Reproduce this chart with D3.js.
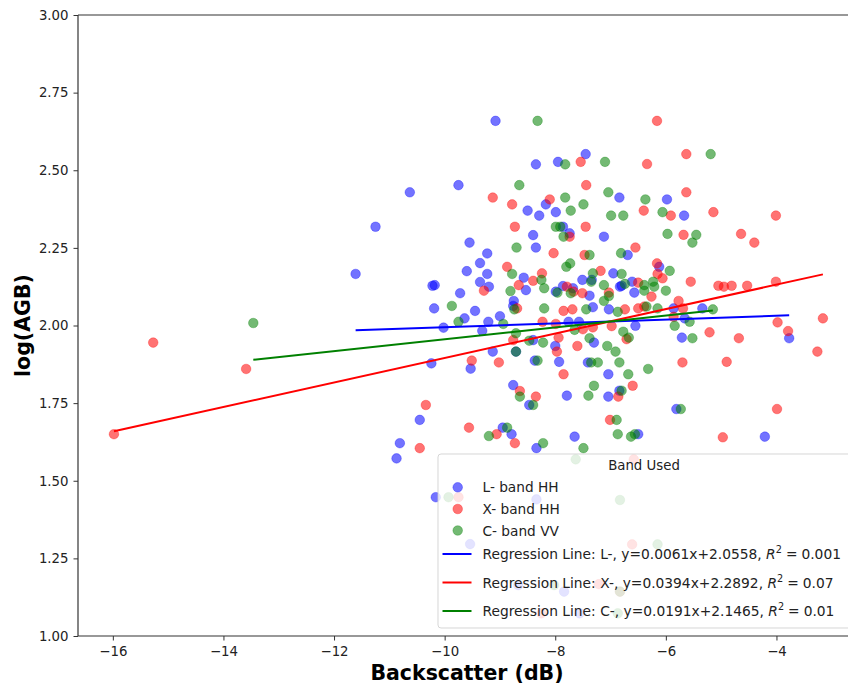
<!DOCTYPE html>
<html>
<head>
<meta charset="utf-8">
<script src="https://cdn.jsdelivr.net/npm/d3@7"></script>
<style>
  html, body { margin: 0; padding: 0; background: #fff; }
  svg { display: block; font-family: "DejaVu Sans", sans-serif; }
</style>
</head>
<body>
<svg id="chart" width="848" height="688"></svg>
<script>
// Backscatter (dB) vs log(AGB) for the three radar bands
const bandNames = ["L- band HH", "X- band HH", "C- band VV"];
const bandCodes = ["L", "X", "C"];
const bandColors = ["blue", "red", "green"];

const lBackscatter = [-9.08,-8.35,-7.95,-7.45,-9.75,-10.63,-11.25,-11.61,-8.50,-8.29,-8.17,-7.99,-8.40,-8.35,-7.86,-7.74,
  -9.55,-9.23,-9.36,-9.60,-9.23,-9.36,-9.20,-10.22,-10.18,-9.72,-10.19,-9.45,-9.64,-10.02,-9.32,-9.21,-9.00,-8.75,-8.76,
  -8.57,-8.53,-7.99,-7.68,-7.51,-7.38,-7.32,-7.34,-7.76,-7.57,-6.84,-5.98,-5.67,-7.12,-6.69,-6.12,-6.95,-6.61,-6.80,
  -6.57,-7.03,-5.34,-5.86,-5.66,-6.55,-5.71,-3.77,-6.83,-7.86,-10.24,-9.53,-9.13,-8.71,-8.37,-8.40,-8.00,-7.93,-7.30,
  -7.41,-8.76,-8.47,-7.79,-10.45,-8.95,-8.79,-8.34,-7.65,-10.81,-10.87,-7.04,-7.04,-6.84,-6.50,-5.81,-4.21,-10.16,
  -8.34,-9.54,-8.67,-7.84,-7.56];
const lLogAGB = [2.659,2.519,2.527,2.552,2.452,2.429,2.318,2.166,2.370,2.354,2.390,2.365,2.291,2.251,2.318,2.297,
  2.267,2.232,2.201,2.175,2.166,2.140,2.125,2.128,2.130,2.104,2.055,2.047,2.023,1.993,1.983,2.012,2.030,2.079,2.063,
  2.154,2.114,2.109,2.120,2.147,2.096,2.059,2.147,2.012,2.012,2.412,2.406,2.354,2.286,2.227,2.189,2.168,2.141,2.128,
  2.106,2.052,2.055,2.055,2.023,1.999,1.961,1.959,2.125,2.127,1.878,1.861,1.916,1.916,1.887,1.953,1.934,1.883,1.945,
  1.881,1.808,1.744,1.774,1.696,1.671,1.650,1.605,1.642,1.621,1.572,1.843,1.771,1.790,1.650,1.731,1.642,1.447,
  1.440,1.296,1.164,1.143,1.073];

const xBackscatter = [-15.27,-13.59,-15.98,-7.54,-7.44,-9.13,-8.78,-8.10,-8.73,-7.45,-8.03,-7.47,-8.87,-8.24,-8.40,-8.66,
  -9.29,-7.79,-7.67,-7.51,-8.69,-7.85,-7.69,-8.23,-7.99,-7.94,-7.18,-7.32,-7.74,-6.16,-5.63,-6.34,-5.63,-6.40,-5.91,
  -5.14,-4.01,-5.68,-4.64,-4.40,-6.55,-6.16,-6.15,-6.06,-5.55,-5.05,-4.95,-4.81,-4.53,-4.01,-6.50,-7.03,-6.26,-5.77,
  -6.74,-6.50,-6.39,-5.69,-5.86,-3.16,-3.98,-3.79,-5.21,-4.68,-6.98,-7.50,-9.51,-9.02,-8.76,-7.97,-7.85,-7.60,-8.64,
  -8.35,-10.34,-9.56,-9.06,-8.73,-10.45,-6.71,-6.60,-6.86,-7.01,-3.26,-5.70,-4.90,-3.99,-4.97,-9.75,-6.58,-6.61,-7.21,
  -8.25,-6.83];
const xLogAGB = [1.945,1.860,1.650,2.527,2.452,2.412,2.390,2.406,2.318,2.318,2.233,2.227,2.189,2.168,2.144,2.130,
  2.112,2.125,2.109,2.104,2.055,2.047,2.052,2.012,2.005,1.961,2.176,1.994,2.286,2.659,2.552,2.520,2.429,2.370,2.354,
  2.365,2.354,2.292,2.295,2.267,2.251,2.200,2.166,2.152,2.141,2.128,2.125,2.128,2.128,2.141,2.138,2.106,2.093,2.079,
  2.052,2.055,2.061,2.055,2.028,2.023,2.010,1.982,1.978,1.959,1.998,1.988,1.887,1.881,1.953,1.916,1.843,1.934,1.789,
  1.771,1.744,1.671,1.650,1.621,1.605,1.956,1.806,1.771,1.696,1.916,1.881,1.883,1.731,1.640,1.447,1.569,1.295,1.167,
  1.073,1.143];

const cBackscatter = [-13.46,-8.32,-7.82,-8.65,-7.82,-7.72,-7.49,-7.99,-7.91,-7.85,-8.70,-7.38,-7.80,-7.73,-8.78,-8.25,
  -8.20,-8.81,-7.96,-7.72,-7.32,-9.87,-9.75,-8.74,-8.20,-7.44,-8.94,-8.71,-5.19,-7.10,-7.04,-6.37,-6.06,-6.99,-6.77,
  -5.97,-5.45,-5.52,-6.81,-7.35,-7.12,-6.80,-6.74,-6.39,-6.23,-6.21,-5.93,-6.00,-6.39,-7.03,-7.12,-6.87,-6.35,-6.15,
  -5.15,-5.57,-5.84,-6.77,-6.67,-5.52,-7.65,-7.38,-8.71,-8.32,-8.47,-8.22,-7.35,-7.23,-8.64,-8.40,-7.40,-7.30,-8.87,
  -9.20,-8.22,-7.49,-7.06,-6.91,-6.84,-6.68,-6.32,-6.80,-6.89,-6.87,-6.63,-6.56,-5.73,-7.63,-9.93,-6.83,-8.02,-6.15,
  -6.87,-6.83];
const cLogAGB = [2.008,2.659,2.519,2.452,2.412,2.370,2.390,2.318,2.318,2.286,2.251,2.227,2.189,2.200,2.166,2.147,
  2.120,2.111,2.106,2.104,2.168,2.063,2.012,2.052,2.055,2.052,2.005,1.975,2.552,2.527,2.429,2.406,2.365,2.354,2.354,
  2.295,2.292,2.267,2.233,2.141,2.130,2.166,2.134,2.130,2.141,2.125,2.176,2.112,2.112,2.095,2.079,2.044,2.061,2.055,
  2.052,2.012,1.999,1.980,1.961,1.959,1.986,1.959,1.916,1.887,1.951,1.945,1.881,1.881,1.771,1.744,1.774,1.806,1.671,
  1.644,1.621,1.605,1.934,1.916,1.881,1.843,1.860,1.790,1.696,1.650,1.642,1.650,1.731,1.569,1.447,1.438,1.164,1.295,
  1.073,1.143];

// Fitted regression lines (slope, intercept, R²) as printed in the legend
const slopes = [0.0061, 0.0394, 0.0191];
const intercepts = [2.0558, 2.2892, 2.1465];
const slopeText = ["0.0061", "0.0394", "0.0191"];
const interceptText = ["2.0558", "2.2892", "2.1465"];
const r2Text = ["0.001", "0.07", "0.01"];

const xTicks = [-16, -14, -12, -10, -8, -6, -4];
const yTicks = [1.00, 1.25, 1.50, 1.75, 2.00, 2.25, 2.50, 2.75, 3.00];

const backscatter = [lBackscatter, xBackscatter, cBackscatter];
const logAGB = [lLogAGB, xLogAGB, cLogAGB];

const svg = d3.select("#chart");
const plotLeft = 78, plotTop = 15, plotBottom = 636;

const x = d3.scaleLinear().domain([-16.63, -2.52]).range([plotLeft, 858.3]);
const y = d3.scaleLinear().domain([1, 3]).range([plotBottom, plotTop]);

// axes
const axisColor = "#333";
const gx = svg.append("g").attr("transform", `translate(0,${plotBottom})`)
  .call(d3.axisBottom(x).tickValues(xTicks).tickSize(4.5).tickPadding(6).tickFormat(d3.format("d")));
const gy = svg.append("g").attr("transform", `translate(${plotLeft},0)`)
  .call(d3.axisLeft(y).tickValues(yTicks).tickSize(4.5).tickPadding(5).tickFormat(d3.format(".2f")));
[gx, gy].forEach(g => {
  g.select(".domain").remove();
  g.selectAll("line").attr("stroke", axisColor).attr("stroke-width", 1);
  g.selectAll("text").attr("fill", "#222").style("font-size", "13.3px")
    .style("font-family", "'DejaVu Sans', sans-serif");
});

// spines
svg.append("line").attr("x1", plotLeft).attr("x2", plotLeft).attr("y1", plotTop).attr("y2", plotBottom)
  .attr("stroke", axisColor).attr("stroke-width", 1.2);
svg.append("line").attr("x1", plotLeft).attr("x2", 858).attr("y1", plotBottom).attr("y2", plotBottom)
  .attr("stroke", axisColor).attr("stroke-width", 1.2);
svg.append("line").attr("x1", plotLeft).attr("x2", 858).attr("y1", plotTop).attr("y2", plotTop)
  .attr("stroke", axisColor).attr("stroke-width", 1.2);

// axis titles
svg.append("text").attr("x", 467).attr("y", 680).attr("text-anchor", "middle")
  .style("font-size", "20.5px").style("font-weight", "bold").attr("fill", "#000")
  .text("Backscatter (dB)");
svg.append("text").attr("transform", `translate(30,${(plotTop + plotBottom) / 2}) rotate(-90)`)
  .attr("text-anchor", "middle").style("font-size", "20.5px").style("font-weight", "bold")
  .attr("fill", "#000").text("log(AGB)");

// scatter points
const plot = svg.append("g");
bandNames.forEach((name, i) => {
  const pts = backscatter[i].map((v, k) => [v, logAGB[i][k]]);
  plot.append("g").selectAll("circle").data(pts).join("circle")
    .attr("cx", d => x(d[0])).attr("cy", d => y(d[1])).attr("r", 4.8)
    .attr("fill", bandColors[i]).attr("fill-opacity", 0.55)
    .attr("stroke", bandColors[i]).attr("stroke-opacity", 0.3).attr("stroke-width", 1);
});

// regression lines over each band's backscatter range
bandNames.forEach((name, i) => {
  const [x0, x1] = d3.extent(backscatter[i]);
  const f = v => slopes[i] * v + intercepts[i];
  plot.append("line")
    .attr("x1", x(x0)).attr("y1", y(f(x0)))
    .attr("x2", x(x1)).attr("y2", y(f(x1)))
    .attr("stroke", bandColors[i]).attr("stroke-width", 2);
});

// legend
const lg = svg.append("g");
lg.append("rect").attr("x", 438).attr("y", 454).attr("width", 420).attr("height", 174)
  .attr("rx", 3).attr("fill", "#fff").attr("fill-opacity", 0.8)
  .attr("stroke", "#ccc").attr("stroke-opacity", 0.8);
lg.append("text").attr("x", 644).attr("y", 470).attr("text-anchor", "middle")
  .style("font-size", "13.3px").attr("fill", "#222").text("Band Used");

const markerRows = [487.3, 509, 530.5];
bandNames.forEach((name, i) => {
  lg.append("circle").attr("cx", 457.7).attr("cy", markerRows[i]).attr("r", 4.8)
    .attr("fill", bandColors[i]).attr("fill-opacity", 0.55)
    .attr("stroke", bandColors[i]).attr("stroke-opacity", 0.3);
  lg.append("text").attr("x", 482.5).attr("y", markerRows[i] + 5)
    .style("font-size", "13.7px").attr("fill", "#222").text(name);
});

const lineRows = [554, 582.5, 611];
bandNames.forEach((name, i) => {
  lg.append("line").attr("x1", 442.5).attr("x2", 471.5)
    .attr("y1", lineRows[i]).attr("y2", lineRows[i])
    .attr("stroke", bandColors[i]).attr("stroke-width", 2);
  const t = lg.append("text").attr("x", 482.5).attr("y", lineRows[i] + 5)
    .style("font-size", "13.8px").attr("fill", "#222");
  t.append("tspan").text(`Regression Line: ${bandCodes[i]}-, y=${slopeText[i]}x+${interceptText[i]}, `);
  t.append("tspan").style("font-style", "italic").text("R");
  t.append("tspan").attr("dy", -6).style("font-size", "9.7px").text("2");
  t.append("tspan").attr("dy", 6).attr("dx", 4).text("=");
  t.append("tspan").attr("dx", 4).text(r2Text[i]);
});
</script>
</body>
</html>
